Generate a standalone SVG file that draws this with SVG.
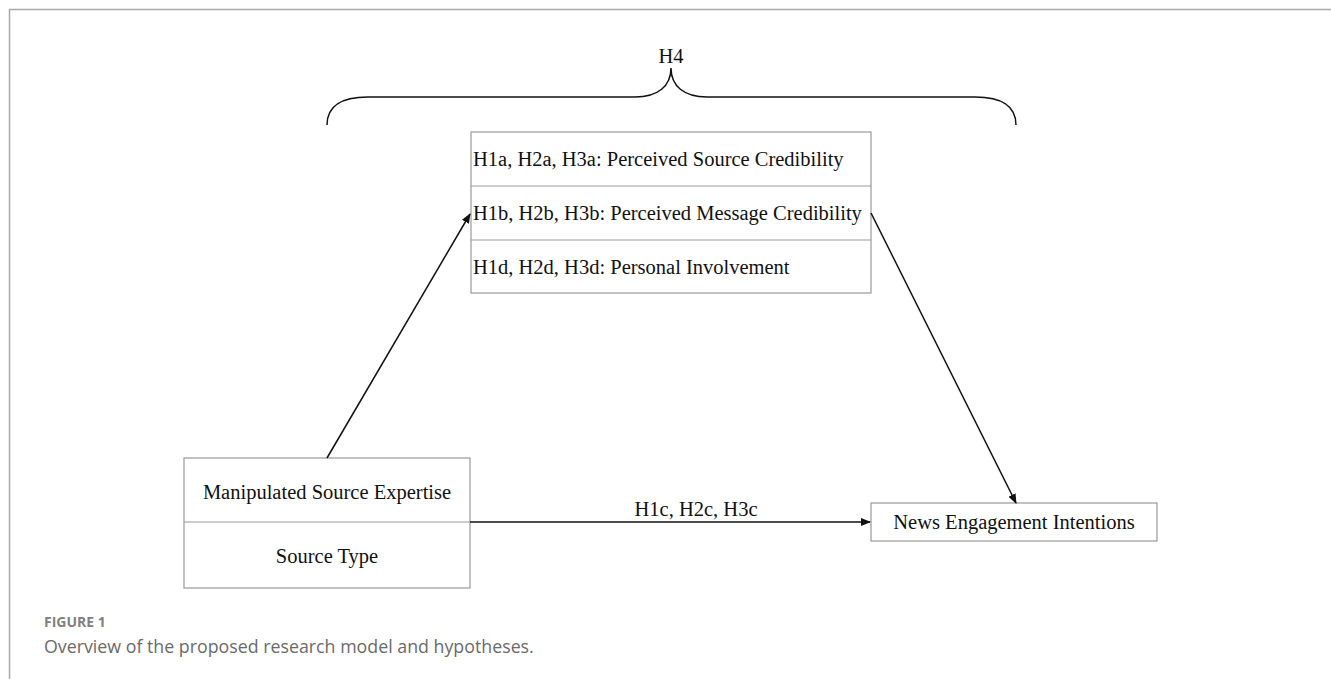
<svg xmlns="http://www.w3.org/2000/svg" width="1331" height="679" viewBox="0 0 1331 679">
<defs>
<style>
.box{fill:#fff;stroke:#999;stroke-width:1.2}
.div{stroke:#999;stroke-width:1.2}
.t{font-family:"Liberation Serif","Times New Roman",serif;font-size:20.5px;fill:#111}
.c{text-anchor:middle}
.con{stroke:#111;stroke-width:1.5;fill:none}
.cap1{font-family:"Open Sans","Noto Sans",sans-serif;font-size:14px;font-weight:bold;fill:#808080}
.cap2{font-family:"Open Sans","Noto Sans",sans-serif;font-size:17.8px;fill:#6a6a6a}
</style>
<marker id="ah" markerWidth="10" markerHeight="8" refX="9" refY="4" orient="auto" markerUnits="userSpaceOnUse">
<path d="M0,0 L10,4 L0,8 Z" fill="#111"/>
</marker>
</defs>
<rect width="1331" height="679" fill="#fff"/>
<path d="M1331,9.5 H9.5 V679" fill="none" stroke="#aaa" stroke-width="1.5"/>
<g id="brace">
<path class="con" d="M327,125 C327,106 342,97 368,97 H635 C658,97 671,86 671,68 C671,86 684,97 707,97 H975 C1001,97 1016,106 1016,125"/>
<text class="t c" x="671" y="63">H4</text>
</g>
<g id="mediators">
<rect class="box" x="471" y="132" width="400" height="161"/>
<line class="div" x1="471" y1="186" x2="871" y2="186"/>
<line class="div" x1="471" y1="240" x2="871" y2="240"/>
<text class="t" x="473" y="166">H1a, H2a, H3a: Perceived Source Credibility</text>
<text class="t" x="473" y="220">H1b, H2b, H3b: Perceived Message Credibility</text>
<text class="t" x="473" y="274">H1d, H2d, H3d: Personal Involvement</text>
</g>
<g id="source">
<rect class="box" x="184" y="458" width="286" height="130"/>
<line class="div" x1="184" y1="522" x2="470" y2="522"/>
<text class="t c" x="327" y="499">Manipulated Source Expertise</text>
<text class="t c" x="327" y="563">Source Type</text>
</g>
<g id="outcome">
<rect class="box" x="871" y="503" width="286" height="38"/>
<text class="t c" x="1014" y="529">News Engagement Intentions</text>
</g>
<g id="connectors">
<line class="con" x1="327" y1="458" x2="470" y2="214" marker-end="url(#ah)"/>
<line class="con" x1="871" y1="213" x2="1016" y2="503" marker-end="url(#ah)"/>
<line class="con" x1="470" y1="522" x2="870" y2="522" marker-end="url(#ah)"/>
<text class="t c" x="696" y="516">H1c, H2c, H3c</text>
</g>
<text class="cap1" x="44" y="627">FIGURE 1</text>
<text class="cap2" x="44" y="653">Overview of the proposed research model and hypotheses.</text>
</svg>
